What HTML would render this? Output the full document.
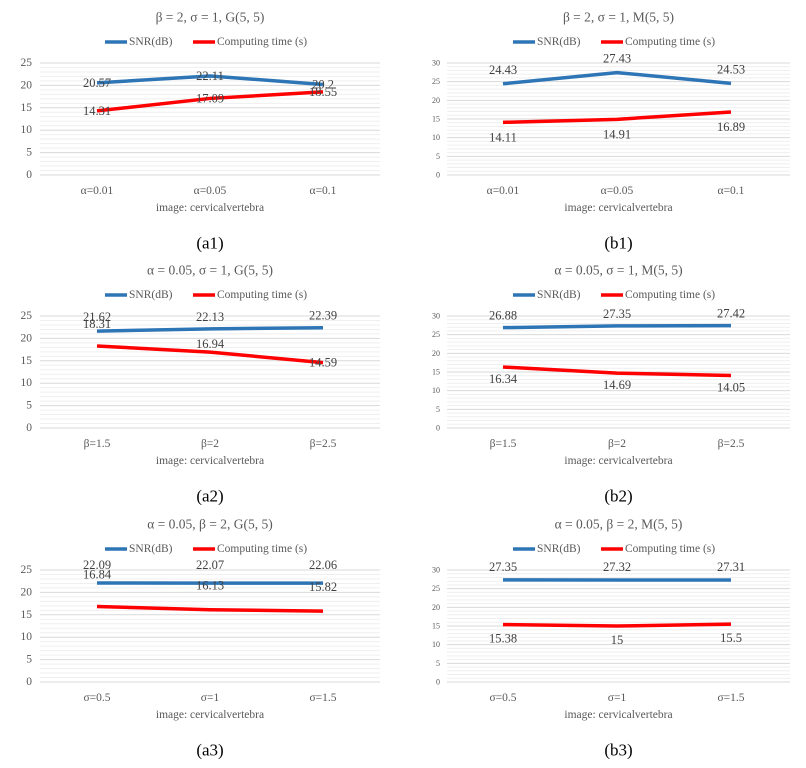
<!DOCTYPE html>
<html><head><meta charset="utf-8"><style>
body{margin:0;background:#fff}
svg text{font-family:"Liberation Serif",serif}
</style></head><body>
<svg id="c" width="806" height="763" xmlns="http://www.w3.org/2000/svg"></svg>
<script>
const catsA1 = ["α=0.01","α=0.05","α=0.1"];
const catsA2 = ["β=1.5","β=2","β=2.5"];
const catsA3 = ["σ=0.5","σ=1","σ=1.5"];
const snrA1 = [20.57,22.11,20.2];
const timeA1 = [14.31,17.09,18.55];
const snrB1 = [24.43,27.43,24.53];
const timeB1 = [14.11,14.91,16.89];
const snrA2 = [21.62,22.13,22.39];
const timeA2 = [18.31,16.94,14.59];
const snrB2 = [26.88,27.35,27.42];
const timeB2 = [16.34,14.69,14.05];
const snrA3 = [22.09,22.07,22.06];
const timeA3 = [16.84,16.13,15.82];
const snrB3 = [27.35,27.32,27.31];
const timeB3 = [15.38,15,15.5];
const ticksA = [0,5,10,15,20,25];
const ticksB = [0,5,10,15,20,25,30];

const NS="http://www.w3.org/2000/svg";
const svg=document.getElementById('c');
function mk(tag,attrs,parent){const e=document.createElementNS(NS,tag);for(const k in attrs)e.setAttribute(k,attrs[k]);(parent||svg).appendChild(e);return e;}
function txt(s,x,y,size,fill,anchor,parent){const t=mk('text',{x:x,y:y,'font-size':size,fill:fill,'text-anchor':anchor||'middle','dominant-baseline':'central'},parent);t.textContent=s;return t;}

const panels=[
 {id:'a1',title:'β = 2, σ = 1, G(5, 5)',cats:catsA1,snr:snrA1,time:timeA1,ticks:ticksA,top:0,left:true,so:[0,0,0],to:[0,0,0]},
 {id:'b1',title:'β = 2, σ = 1, M(5, 5)',cats:catsA1,snr:snrB1,time:timeB1,ticks:ticksB,top:0,left:false,so:[-14,-14,-14],to:[15,15,15]},
 {id:'a2',title:'α = 0.05, σ = 1, G(5, 5)',cats:catsA2,snr:snrA2,time:timeA2,ticks:ticksA,top:253,left:true,so:[-14,-12,-12],to:[-22,-8,0]},
 {id:'b2',title:'α = 0.05, σ = 1, M(5, 5)',cats:catsA2,snr:snrB2,time:timeB2,ticks:ticksB,top:253,left:false,so:[-12,-12,-12],to:[12,12,12]},
 {id:'a3',title:'α = 0.05, β = 2, G(5, 5)',cats:catsA3,snr:snrA3,time:timeA3,ticks:ticksA,top:507,left:true,so:[-18,-18,-18],to:[-32,-24,-24]},
 {id:'b3',title:'α = 0.05, β = 2, M(5, 5)',cats:catsA3,snr:snrB3,time:timeB3,ticks:ticksB,top:507,left:false,so:[-13,-13,-13],to:[14,14,14]},
];

panels.forEach(p=>{
 const g=mk('g',{});
 
 
 const x0=p.left?40:447, x1=p.left?380:790;
 const cx=p.left?[97,210,323]:[503,617,731];
 const yTop=p.top+63, yBot=p.top+175;
 const mid=(x0+x1)/2;
 const maxV=p.ticks[p.ticks.length-1];
 const ys=v=>yBot-(v/maxV)*(yBot-yTop);
 const xs=i=>cx[i];
 const t=txt(p.title,mid,p.top+17,13.5,'#595959','middle',g);
 
 
 const lg=mk('g',{},g);
 
 
 const lx=p.left?105:513, ly=p.top+42;
 mk('line',{x1:lx,y1:ly,x2:lx+22,y2:ly,stroke:'#2E75B6','stroke-width':3.5},lg);
 txt('SNR(dB)',lx+24,ly,11.5,'#595959','start',lg);
 mk('line',{x1:lx+88,y1:ly,x2:lx+110,y2:ly,stroke:'#FF0000','stroke-width':3.5},lg);
 txt('Computing time (s)',lx+112,ly,11.5,'#595959','start',lg);
 for(let v=0;v<=maxV;v++){
  const y=ys(v);
  const major=v%5===0;
  const gl=mk('line',{x1:x0,y1:y,x2:x1,y2:y,stroke:major?'#d9d9d9':'#efefef','stroke-width':1},g);
  
  
 }
 p.ticks.forEach(v=>{
  const tl=txt(String(v),p.left?32:440,ys(v),p.left?11.5:8,'#595959','end',g);
  
  
 });
 p.cats.forEach((c,i)=>{
  const cl=txt(c,xs(i),p.top+191,11.5,'#595959','middle',g);
  
  
 });
 const at=txt('image: cervicalvertebra',mid,p.top+208,11.5,'#595959','middle',g);
 
 
 const pl=txt('('+p.id+')',mid,p.top+243,17,'#000','middle',g);
 
 
 [[p.snr,'#2E75B6',p.so,'snr'],[p.time,'#FF0000',p.to,'time']].forEach(([vals,col,off,nm])=>{
  const pts=vals.map((v,i)=>xs(i)+','+ys(v)).join(' ');
  const pln=mk('polyline',{points:pts,fill:'none',stroke:col,'stroke-width':3.5,'stroke-linejoin':'round'},g);
  
  
  vals.forEach((v,i)=>{
   const dl=txt(String(v),xs(i),ys(v)+off[i],12.5,'#404040','middle',g);
   
   
  });
 });
});
</script>
</body></html>
